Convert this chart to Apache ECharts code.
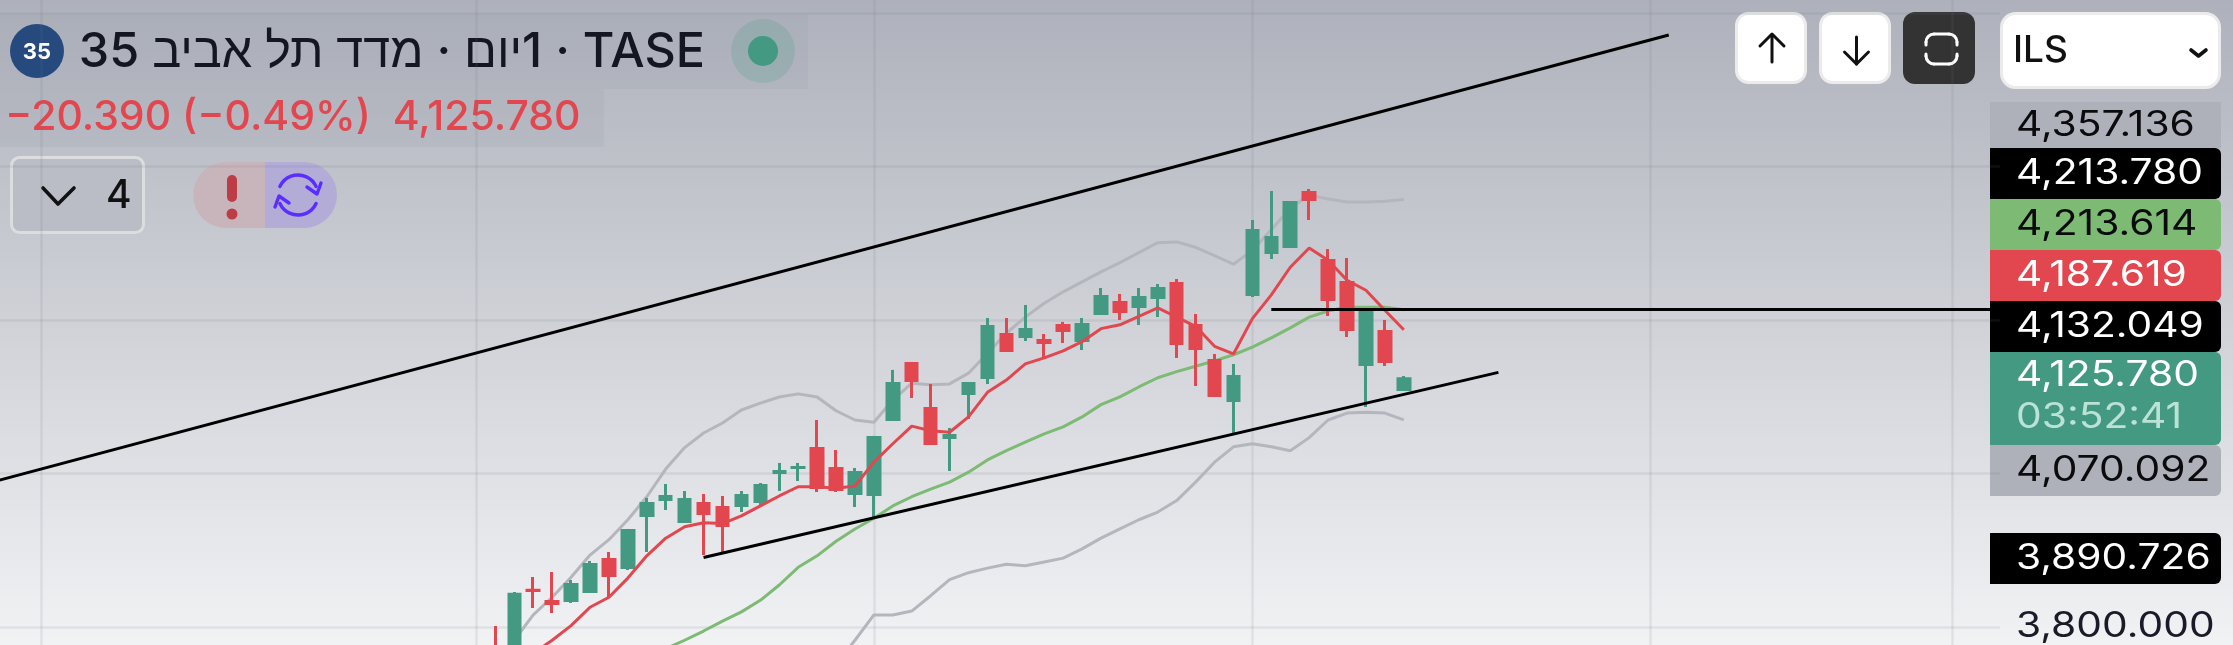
<!DOCTYPE html>
<html>
<head>
<meta charset="utf-8">
<style>
  html, body { margin: 0; padding: 0; background: #fff; }
  #chart { width: 2233px; height: 645px; }
</style>
<script src="https://cdn.jsdelivr.net/npm/echarts@6/dist/echarts.min.js"></script>
</head>
<body>
<div id="chart"></div>
<script>
// daily candles, first candle sits on category index 27
const candleStart = 27
const candleOpen = [3764,3731,3850.2,3835.5,3832.9,3844.6,3890.2,3875.8,3943.6,3964.5,3935.8,3963.2,3957.9,3956.6,3961.8,3999.6,4006.2,4034.8,4008.7,3972.3,3971,4068.7,4145.6,4086.9,4045.2,4102.6,4123.4,4183.3,4176.8,4175.5,4195.1,4171.6,4206.8,4225,4215.9,4227.6,4249.8,4195.1,4149.5,4093.4,4231.5,4286.3,4294.1,4368.3,4279.7,4251.1,4140.3,4187.2,4107.8]
const candleClose = [3718,3845,3845.9,3828.9,3857.6,3883.7,3865.4,3928,3963.2,3972.3,3968.4,3946.2,3930.6,3973.6,3986.6,4004.8,4010.1,3980.1,3977.5,4003.5,4049.2,4119.5,4119.5,4037.4,4051.7,4119.5,4193.8,4158.6,4189.8,4169,4184.6,4196.4,4232.8,4209.4,4231.5,4243.3,4167.7,4161.2,4099.9,4128.6,4318.8,4309.7,4355.3,4355.3,4225,4185.9,4212,4144.2,4125.78]
const candleLow = [3705,3718,3825,3818.5,3831.6,3844.6,3838.1,3874.5,3898,3952.7,3935.8,3894.1,3898,3950.1,3959.2,3977.5,3990.5,3976.2,3976.2,3956.6,3942.3,4068.7,4098.6,4037.4,4003.5,4071.3,4116.9,4158.6,4172.9,4150.8,4170.3,4161.2,4206.8,4200.3,4193.8,4204.2,4150.8,4114.3,4099.9,4053,4230.2,4279.7,4294.1,4330.6,4205.5,4178.1,4086.9,4140.3,4107.8]
const candleHigh = [3801.6,3845.9,3865.4,3871.9,3861.5,3886.3,3898,3928,3968.4,3986.6,3977.5,3973.6,3971,3977.5,3987.9,4014,4014,4070,4030.9,4007.4,4049.2,4135.2,4145.6,4116.9,4059.6,4119.5,4202.9,4202.9,4219.8,4182,4197.7,4202.9,4242,4234.2,4242,4247.2,4253.7,4208.1,4156,4142.9,4330.6,4368.3,4355.3,4371,4292.8,4281.1,4212,4200.3,4127.3]

// fast average (red), from index 29
const redStart = 29
const redLine = [3766,3783,3802,3826,3839,3864,3893,3916,3931,3936,3935,3945,3958,3971,3983,3983,3981,3984,4015,4039,4062,4056,4054,4074,4106,4122,4143,4151,4160,4172,4189,4194,4205,4216,4204,4192,4166,4156,4202,4233,4269,4294,4278,4252,4239,4213,4187.619]
// slow average (green), from index 36
const greenStart = 36
const greenLine = [3772,3783,3795,3808,3820,3835,3855,3878,3893,3912,3928,3942,3958,3970,3980,3989,4002,4018,4030,4041,4052,4061,4074,4090,4100,4113,4125,4133,4140,4147,4155,4165,4177,4190,4204,4212,4217,4217,4217,4213.614]
// bollinger bands (grey)
const upperStart = 27
const upperBand = [3757,3783,3816,3839,3865,3894,3914,3940,3970,4006,4034,4053,4066,4083,4092,4100,4104,4100,4082,4070,4067,4096,4118,4116,4117,4131,4157,4183,4204,4222,4237,4250,4263,4275,4288,4301,4302,4295,4284,4273,4291,4318,4346,4363,4358,4354,4354,4355,4357.136]
const lowerStart = 45
const lowerBand = [3751,3783,3816,3816,3821,3841,3862,3871,3877,3882,3880,3885,3890,3902,3916,3928,3940,3950,3965,3989,4015,4035,4039,4035,4030,4047,4070,4079,4080,4079,4070.092]

// drawn lines: [fromIndex, fromValue, toIndex, toValue]
const upperTrend = [0, 3986.3, 89, 4571.6]
const lowerTrend = [38, 3890.726, 80, 4132.049]
const flatLine = [68, 4213.78, 106, 4213.78]

const monthTicks = [3, 26, 47, 67, 88, 104]
const dayCount = 107
const days = Array.from({ length: dayCount }, (_, i) => 'd' + i)

// the RLM keeps the 1 next to its Hebrew word when the line is laid out right to left
const titleText = 'TASE · \u200F1יום · מדד תל אביב 35'
const changeText = '−20.390 (−0.49%)  4,125.780'
const currency = 'ILS'
const countdown = '03:52:41'
const axisTick = 3800

const UP = '#439982'
const DOWN = '#e2474f'
const FONT = 'Inter, "Liberation Sans", sans-serif'

const fmt = v => v.toLocaleString('en-US', { minimumFractionDigits: 3, maximumFractionDigits: 3 })
const pad = (n, arr) => Array(n).fill(null).concat(arr)
const bgFill = () => new echarts.graphic.LinearGradient(0, 0, 0, 1, [
  { offset: 0, color: '#aeb1bb' },
  { offset: 1, color: '#f1f2f4' }
])

const candles = Array(candleStart).fill(['-', '-', '-', '-'])
  .concat(candleOpen.map((o, i) => [o, candleClose[i], candleLow[i], candleHigh[i]]))

const trendLine = t => [{ coord: [t[0], t[1]] }, { coord: [t[2], t[3]] }]

function lineSeries(name, start, values, color, z) {
  return {
    name, type: 'line', data: pad(start, values), showSymbol: false, silent: true, z,
    lineStyle: { color, width: 3 }, itemStyle: { color }
  }
}

// right hand price tags
const tags = [
  { y: 102, h: 46, bg: '#afb1ba', color: '#0b0b0e', value: upperBand[upperBand.length - 1], r: [0, 0, 0, 0] },
  { y: 148, h: 51, bg: '#000', color: '#fff', value: flatLine[1], r: [0, 6, 6, 0] },
  { y: 199, h: 51, bg: '#7dba74', color: '#0b0b0e', value: greenLine[greenLine.length - 1], r: [0, 6, 6, 0] },
  { y: 250, h: 51, bg: '#e2474f', color: '#fff', value: redLine[redLine.length - 1], r: [0, 6, 6, 0] },
  { y: 301, h: 51, bg: '#000', color: '#fff', value: lowerTrend[3], r: [0, 6, 6, 0] },
  { y: 445, h: 51, bg: '#afb1ba', color: '#0b0b0e', value: lowerBand[lowerBand.length - 1], r: [0, 6, 6, 0] },
  { y: 533, h: 51, bg: '#000', color: '#fff', value: lowerTrend[1], r: [0, 6, 6, 0] }
]

function text(x, y, str, size, color, extra) {
  return {
    type: 'text', x, y, silent: true,
    style: Object.assign({ text: str, fill: color, font: `${size}px ${FONT}`, verticalAlign: 'middle', align: 'left' }, extra || {})
  }
}
// the reference tags are tracked out, canvas text can't do that so stretch them a bit
const tagText = (y, str, color) => Object.assign(text(2016, y, str, 35, color), { scaleX: 1.165 })

function rect(x, y, w, h, fill, r, stroke) {
  return {
    type: 'rect', silent: true, shape: { x, y, width: w, height: h, r: r || 0 },
    style: stroke ? { fill, stroke, lineWidth: 3 } : { fill }
  }
}
function stroke(points, color, w) {
  return {
    type: 'polyline', silent: true, shape: { points },
    style: { fill: 'none', stroke: color, lineWidth: w, lineCap: 'round', lineJoin: 'round' }
  }
}
function arc(cx, cy, r, from, to, color, w) {
  const rad = Math.PI / 180
  return {
    type: 'arc', silent: true, shape: { cx, cy, r, startAngle: from * rad, endAngle: to * rad, clockwise: true },
    style: { fill: 'none', stroke: color, lineWidth: w, lineCap: 'round' }
  }
}
const circle = (cx, cy, r, fill) => ({ type: 'circle', silent: true, shape: { cx, cy, r }, style: { fill } })

const graphics = [
  // blank out the grid under the price column
  { type: 'rect', silent: true, shape: { x: 1987, y: 0, width: 246, height: 645 }, style: { fill: bgFill() } },

  // header
  rect(0, 14, 808, 75, 'rgba(150,155,170,0.16)'),
  rect(0, 89, 604, 58, 'rgba(150,155,170,0.16)'),
  circle(37, 51, 27, '#264a7e'),
  text(37, 52, '35', 22, '#fff', { align: 'center', font: `bold 22px ${FONT}` }),
  text(705, 52, '\u2067' + titleText + '\u2069', 48, '#141722', { align: 'right', font: `500 48.5px ${FONT}` }),
  circle(763, 51, 32, 'rgba(67,153,130,0.2)'),
  circle(763, 51, 15, UP),
  text(5, 118, changeText, 41, DOWN, { font: `500 41px ${FONT}` }),

  // indicator toggle
  rect(11.5, 157.5, 132, 75, '#babdc6', 8, '#dcdddf'),
  stroke([[43, 188], [58, 204], [74, 188]], '#111', 3.6),
  text(106, 196, '4', 39, '#111', { font: `500 39px ${FONT}` }),

  // warning + sync pill
  rect(193, 162, 72, 66, '#c8b5bc', [33, 0, 0, 33]),
  rect(265, 162, 72, 66, '#b3acd7', [0, 33, 33, 0]),
  rect(227, 175, 10, 27, '#bd3d46', 5),
  circle(232, 214, 5.5, '#bd3d46'),
  arc(298, 195, 20, 205, 335, '#5a2eff', 3.4),
  arc(298, 195, 20, 25, 155, '#5a2eff', 3.4),
  stroke([[307, 187], [317, 194], [321, 183]], '#5a2eff', 3.4),
  stroke([[289, 203], [279, 196], [275, 207]], '#5a2eff', 3.4),

  // buttons
  rect(1736.5, 13.5, 69, 69, '#fff', 12, '#ebebeb'),
  stroke([[1772, 62], [1772, 35]], '#111', 3),
  stroke([[1760, 46], [1772, 34], [1784, 46]], '#111', 3),
  rect(1820.5, 13.5, 69, 69, '#fff', 12, '#ebebeb'),
  stroke([[1856.5, 37], [1856.5, 64]], '#111', 3),
  stroke([[1844.5, 52], [1856.5, 64], [1868.5, 52]], '#111', 3),
  rect(1903, 12, 72, 72, '#333333', 12),
  stroke([[1926, 45], [1926, 42]], '#fff', 3),
  arc(1934, 42, 8, 180, 270, '#fff', 3),
  stroke([[1934, 34], [1949, 34]], '#fff', 3),
  arc(1949, 42, 8, 270, 360, '#fff', 3),
  stroke([[1957, 42], [1957, 45]], '#fff', 3),
  stroke([[1926, 54], [1926, 56]], '#fff', 3),
  arc(1934, 56, 8, 90, 180, '#fff', 3),
  stroke([[1934, 64], [1949, 64]], '#fff', 3),
  arc(1949, 56, 8, 0, 90, '#fff', 3),
  stroke([[1957, 56], [1957, 54]], '#fff', 3),

  // currency select
  rect(2001.5, 13.5, 218, 74, '#fff', 14, '#ebebeb'),
  text(2013, 51, currency, 37, '#111', { font: `500 37px ${FONT}` }),
  stroke([[2191, 50], [2198.5, 56], [2206, 50]], '#111', 3.6),

  // price tags
  ...tags.map(t => rect(1990, t.y, 231, t.h, t.bg, t.r)),
  ...tags.map(t => tagText(t.y + t.h / 2, fmt(t.value), t.color)),
  rect(1990, 352, 231, 93, UP, [0, 6, 6, 0]),
  tagText(375, fmt(candleClose[candleClose.length - 1]), '#fff'),
  tagText(417, countdown, '#bce2d6'),
  tagText(626, fmt(axisTick), '#191c28')
]

const chart = echarts.init(document.getElementById('chart'), null, { renderer: 'canvas' })
chart.setOption({
  animation: false,
  backgroundColor: bgFill(),
  // the plot runs past the page on purpose, older candles fall off the edges
  grid: { left: -25.06, width: 2025, top: -140.3, height: 921, outerBoundsMode: 'none', containLabel: false },
  xAxis: {
    type: 'category', data: days, show: false, boundaryGap: true
  },
  yAxis: {
    type: 'value', min: 3600, max: 4800, interval: 200, scale: true,
    axisLine: { show: false }, axisTick: { show: false }, axisLabel: { show: false },
    splitLine: { show: true, lineStyle: { color: 'rgba(110,116,135,0.13)', width: 2.5 } }
  },
  series: [
    Object.assign(lineSeries('upper', upperStart, upperBand, '#b5b6bd', 2), {
      markLine: {
        silent: true, symbol: 'none', z: 1, label: { show: false },
        lineStyle: { color: 'rgba(110,116,135,0.13)', width: 2.5, type: 'solid' },
        data: monthTicks.map(i => ({ xAxis: i }))
      }
    }),
    lineSeries('lower', lowerStart, lowerBand, '#b5b6bd', 2),
    lineSeries('slow', greenStart, greenLine, '#7dba74', 3),
    {
      name: 'wicks', type: 'candlestick', data: candles, barWidth: 0, z: 4, silent: true,
      itemStyle: { color: UP, color0: DOWN, borderColor: UP, borderColor0: DOWN, borderWidth: 3 }
    },
    {
      name: 'bodies', type: 'candlestick', data: candles, barWidth: 15, z: 4, silent: true,
      itemStyle: { color: UP, color0: DOWN, borderColor: UP, borderColor0: DOWN, borderWidth: 0 }
    },
    Object.assign(lineSeries('fast', redStart, redLine, '#e2474f', 5), {
      markLine: {
        silent: true, symbol: 'none', z: 6, label: { show: false },
        lineStyle: { color: '#000', width: 3, type: 'solid' },
        data: [trendLine(upperTrend), trendLine(lowerTrend), trendLine(flatLine)]
      }
    })
  ],
  graphic: { elements: graphics }
})

window.addEventListener('resize', () => {
  chart.resize()
})
</script>
</body>
</html>
